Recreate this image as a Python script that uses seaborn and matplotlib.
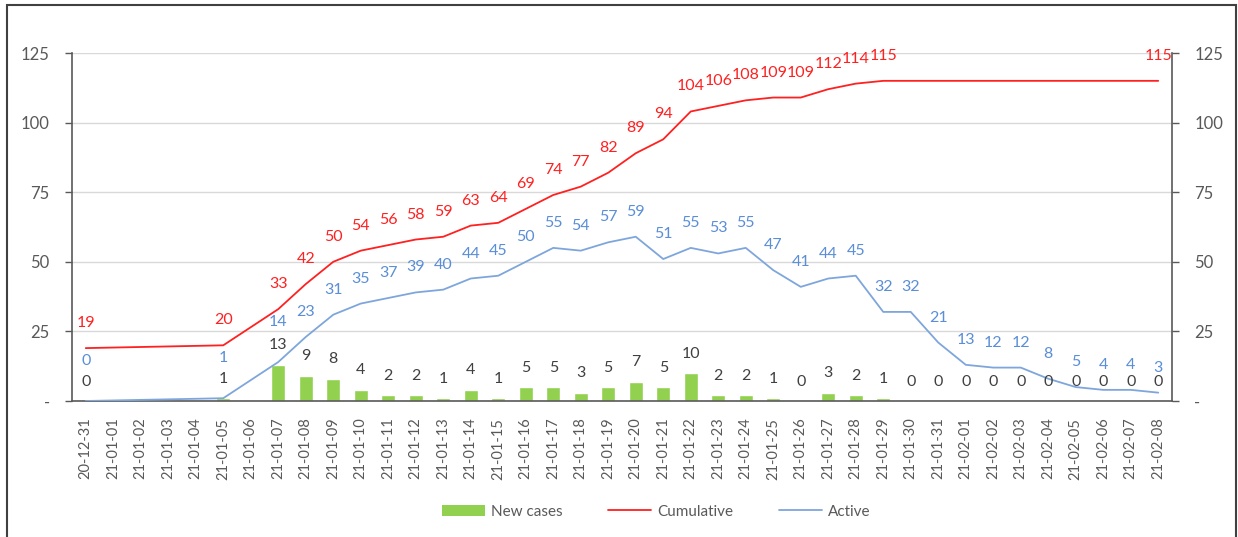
import numpy as np
import pandas as pd
import matplotlib.pyplot as plt
import seaborn as sns
from matplotlib.patches import Patch, Rectangle
from matplotlib.lines import Line2D

nan = np.nan

dates = ['20-12-31', '21-01-01', '21-01-02', '21-01-03', '21-01-04', '21-01-05',
         '21-01-06', '21-01-07', '21-01-08', '21-01-09', '21-01-10', '21-01-11',
         '21-01-12', '21-01-13', '21-01-14', '21-01-15', '21-01-16', '21-01-17',
         '21-01-18', '21-01-19', '21-01-20', '21-01-21', '21-01-22', '21-01-23',
         '21-01-24', '21-01-25', '21-01-26', '21-01-27', '21-01-28', '21-01-29',
         '21-01-30', '21-01-31', '21-02-01', '21-02-02', '21-02-03', '21-02-04',
         '21-02-05', '21-02-06', '21-02-07', '21-02-08']

new_cases = [0, nan, nan, nan, nan, 1, nan, 13, 9, 8, 4, 2, 2, 1, 4, 1, 5, 5, 3, 5,
             7, 5, 10, 2, 2, 1, 0, 3, 2, 1, 0, 0, 0, 0, 0, 0, 0, 0, 0, 0]

cumulative = [19, nan, nan, nan, nan, 20, nan, 33, 42, 50, 54, 56, 58, 59, 63, 64,
              69, 74, 77, 82, 89, 94, 104, 106, 108, 109, 109, 112, 114, 115,
              nan, nan, nan, nan, nan, nan, nan, nan, nan, 115]

active = [0, nan, nan, nan, nan, 1, nan, 14, 23, 31, 35, 37, 39, 40, 44, 45, 50,
          55, 54, 57, 59, 51, 55, 53, 55, 47, 41, 44, 45, 32, 32, 21, 13, 12, 12,
          8, 5, 4, 4, 3]

yticks = [0, 25, 50, 75, 100, 125]
ytick_labels = ['-', '25', '50', '75', '100', '125']

GREEN = '#92D050'
RED = '#FF2020'
BLUE_LINE = '#7EA6DC'
BLUE_TEXT = '#5A8ED6'
GRAY = '#595959'

df = pd.DataFrame({'date': dates, 'new': new_cases,
                   'cumulative': cumulative, 'active': active})
df['pos'] = np.arange(len(df))

sns.set_style('white')
plt.rcParams['font.family'] = ['Lato', 'DejaVu Sans']

fig, ax = plt.subplots(figsize=(12.38, 5.37), dpi=100)
fig.subplots_adjust(left=72 / 1238, right=1172 / 1238, bottom=1 - 401 / 537, top=1 - 53 / 537)

bars = df.dropna(subset=['new'])
sns.barplot(data=bars, x='pos', y='new', native_scale=True, color=GREEN,
            saturation=1, width=0.5, errorbar=None, ax=ax, zorder=2)

cum = df.dropna(subset=['cumulative'])
sns.lineplot(data=cum, x='pos', y='cumulative', color=RED, lw=1.3, ax=ax, zorder=3)
act = df.dropna(subset=['active'])
sns.lineplot(data=act, x='pos', y='active', color=BLUE_LINE, lw=1.3, ax=ax, zorder=3)

# data labels
for _, r in bars.iterrows():
    ax.annotate(f"{int(r['new'])}", (r['pos'], r['new']), xytext=(0, 14),
                textcoords='offset points', ha='center', va='center',
                color='#404040', fontsize=11.5)
for _, r in cum.iterrows():
    ax.annotate(f"{int(r['cumulative'])}", (r['pos'], r['cumulative']), xytext=(0, 18),
                textcoords='offset points', ha='center', va='center',
                color=RED, fontsize=11.5)
for _, r in act.iterrows():
    off = 18
    if not np.isnan(r['new']) and abs(r['active'] - r['new']) <= 2:
        off = 29
    ax.annotate(f"{int(r['active'])}", (r['pos'], r['active']), xytext=(0, off),
                textcoords='offset points', ha='center', va='center',
                color=BLUE_TEXT, fontsize=11.5)

ax.set_xlim(-0.5, len(dates) - 0.5)
ax.set_ylim(0, 125)
ax.set_xlabel('')
ax.set_ylabel('')
ax.set_yticks(yticks, ytick_labels)
ax.set_xticks(df['pos'], dates, rotation=90)
ax.set_xticks(np.arange(len(dates) + 1) - 0.5, minor=True)
ax.tick_params(axis='x', which='major', length=0, pad=12, labelsize=10.5, labelcolor=GRAY)
ax.tick_params(axis='x', which='minor', length=5, width=1, color=GRAY, direction='out')
ax.tick_params(axis='y', length=5, width=1, color=GRAY, direction='out', left=True,
               pad=11, labelsize=12, labelcolor=GRAY)
ax.yaxis.grid(True, color='#D9D9D9', lw=1)
ax.set_axisbelow(True)
for s in ['top', 'right']:
    ax.spines[s].set_visible(False)
for s in ['left', 'bottom']:
    ax.spines[s].set_color(GRAY)
    ax.spines[s].set_linewidth(1.2)

ax2 = ax.twinx()
ax2.set_ylim(0, 125)
ax2.set_yticks(yticks, ytick_labels)
ax2.tick_params(axis='y', length=5, width=1, color=GRAY, direction='out', right=True,
                pad=11, labelsize=12, labelcolor=GRAY)
for s in ['top', 'left', 'bottom']:
    ax2.spines[s].set_visible(False)
ax2.spines['right'].set_color(GRAY)
ax2.spines['right'].set_linewidth(1.2)

handles = [Patch(facecolor=GREEN, edgecolor='none'),
           Line2D([], [], color=RED, lw=1.3),
           Line2D([], [], color=BLUE_LINE, lw=1.3)]
leg = fig.legend(handles, ['New cases', 'Cumulative', 'Active'], loc='center',
                 bbox_to_anchor=(0.53, 0.047), ncol=3, frameon=False, fontsize=11,
                 handlelength=2.8, columnspacing=3.0, handletextpad=0.4)
for t in leg.get_texts():
    t.set_color(GRAY)

fig.add_artist(Rectangle((7 / 1238, -0.05), 1229 / 1238, 1.05 - 5 / 537,
                         transform=fig.transFigure, fill=False,
                         edgecolor='#404040', lw=1.5, clip_on=False))

fig.savefig('out.png', dpi=100)
